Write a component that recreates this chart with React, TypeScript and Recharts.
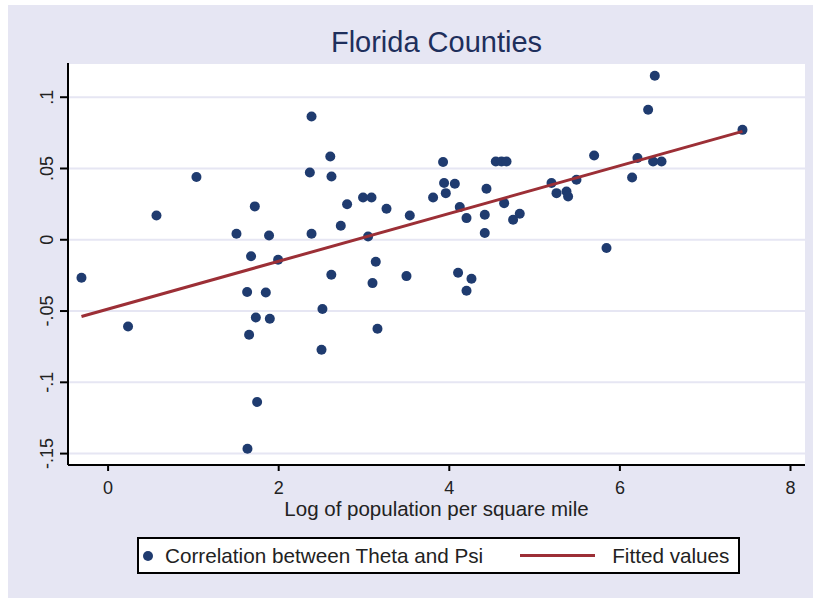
import React from "react";
import { ComposedChart, Scatter, XAxis, YAxis, CartesianGrid } from "recharts";

// log of population per square mile, one entry per county
const logDensity = [
  -0.312, 0.234, 0.567, 1.036, 1.505, 1.63, 1.634, 1.676, 1.72, 1.732,
  1.747, 1.653, 1.849, 1.896, 1.887, 1.993, 2.385, 2.365, 2.385, 2.513,
  2.502, 2.605, 2.619, 2.617, 2.728, 2.802, 2.989, 3.088, 3.048, 3.138,
  3.1, 3.158, 3.264, 3.498, 3.537, 3.81, 3.927, 3.939, 4.065, 3.959,
  4.103, 4.123, 4.202, 4.26, 4.202, 4.416, 4.416, 4.436, 4.545, 4.612,
  4.671, 4.643, 4.748, 4.826, 5.198, 5.257, 5.374, 5.393, 5.491, 5.698,
  5.843, 6.143, 6.206, 6.331, 6.409, 6.389, 6.488, 7.437,
];

// correlation between theta and psi
const correlation = [
  -0.0266, -0.0608, 0.017, 0.044, 0.0042, -0.0367, -0.1466, -0.0116, 0.0234, -0.0545,
  -0.1138, -0.0666, -0.037, -0.0554, 0.003, -0.014, 0.0865, 0.0472, 0.0042, -0.0486,
  -0.0771, 0.0584, 0.0444, -0.0245, 0.0098, 0.0249, 0.0297, 0.0297, 0.0023, -0.0154,
  -0.0304, -0.0624, 0.0217, -0.0255, 0.017, 0.0297, 0.0545, 0.0398, 0.0393, 0.0327,
  -0.0231, 0.0229, 0.0152, -0.0273, -0.0358, 0.0175, 0.0047, 0.0358, 0.0549, 0.0549,
  0.0549, 0.0257, 0.014, 0.0182, 0.0398, 0.0327, 0.0339, 0.0304, 0.0421, 0.0591,
  -0.0058, 0.0437, 0.0573, 0.0912, 0.115, 0.0549, 0.0549, 0.0771,
];

// fitted values at the ends of the x range
const fitX = [-0.312, 7.437];
const fitY = [-0.0538, 0.076];

const xTicks = [0, 2, 4, 6, 8];
const yTicks = [-0.15, -0.1, -0.05, 0, 0.05, 0.1];
const yTickLabels = ["-.15", "-.1", "-.05", "0", ".05", ".1"];

const FONT = '"Liberation Sans", Arial, sans-serif';
const BG = "#e6e6f3";
const NAVY = "#1f3b6f";
const MAROON = "#9c2f36";
const INK = "#222";

const points = logDensity.map((x, i) => ({ x, y: correlation[i] }));
const fitted = fitX.map((x, i) => ({ x, y: fitY[i] }));

const YTick = ({ x, y, payload }: any) => {
  const i = yTicks.indexOf(payload.value);
  return (
    <text
      x={x}
      y={y}
      transform={`rotate(-90 ${x} ${y})`}
      textAnchor="middle"
      fontSize={18}
      fontFamily={FONT}
      fill={INK}
    >
      {i >= 0 ? yTickLabels[i] : payload.value}
    </text>
  );
};

const XTitle = ({ viewBox }: any) => (
  <text
    x={viewBox.x + viewBox.width / 2}
    y={viewBox.y + 51}
    textAnchor="middle"
    fontSize={20.5}
    fontFamily={FONT}
    fill={INK}
  >
    Log of population per square mile
  </text>
);

export default function App() {
  return (
    <div style={{ position: "absolute", left: 0, top: 0, width: 813, height: 598, background: "#fff" }}>
      <div style={{ position: "absolute", left: 8, top: 5, width: 805, height: 593, background: BG }} />
      <div
        style={{
          position: "absolute",
          left: 68,
          width: 737,
          top: 24,
          textAlign: "center",
          fontFamily: FONT,
          fontSize: 29,
          lineHeight: "36px",
          color: "#1e2f5c",
        }}
      >
        Florida Counties
      </div>
      <div style={{ position: "absolute", left: 0, top: 0 }}>
        <ComposedChart width={813} height={598} margin={{ top: 63, right: 8, bottom: 0, left: 0 }}>
          <CartesianGrid vertical={false} fill="#fff" stroke={BG} strokeWidth={2} />
          <XAxis
            type="number"
            dataKey="x"
            domain={[-0.47, 8.17]}
            ticks={xTicks}
            height={133}
            stroke="#000"
            strokeWidth={2}
            tickSize={6}
            tickMargin={10}
            tick={{ fill: INK, fontSize: 18, fontFamily: FONT }}
            label={<XTitle />}
          />
          <YAxis
            type="number"
            dataKey="y"
            domain={[-0.158, 0.124]}
            ticks={yTicks}
            width={68}
            stroke="#000"
            strokeWidth={2}
            tickSize={8}
            tickMargin={7}
            tick={<YTick />}
          />
          <Scatter
            data={points}
            fill={NAVY}
            isAnimationActive={false}
            shape={(p: any) => <circle cx={p.cx} cy={p.cy} r={5} fill={NAVY} />}
          />
          <Scatter
            data={fitted}
            line={{ stroke: MAROON, strokeWidth: 3 }}
            shape={() => <g />}
            isAnimationActive={false}
          />
        </ComposedChart>
      </div>
      <div
        style={{
          position: "absolute",
          left: 137,
          top: 537,
          width: 599,
          height: 33,
          border: "2px solid #000",
          background: "#fff",
          fontFamily: FONT,
          fontSize: 20.7,
          color: INK,
          display: "flex",
          alignItems: "center",
          whiteSpace: "nowrap",
        }}
      >
        <span style={{ display: "inline-block", width: 10, height: 10, borderRadius: 5, background: NAVY, marginLeft: 4 }} />
        <span style={{ marginLeft: 12 }}>Correlation between Theta and Psi</span>
        <span style={{ display: "inline-block", width: 75, height: 3, background: MAROON, marginLeft: 37 }} />
        <span style={{ marginLeft: 17 }}>Fitted values</span>
      </div>
    </div>
  );
}
